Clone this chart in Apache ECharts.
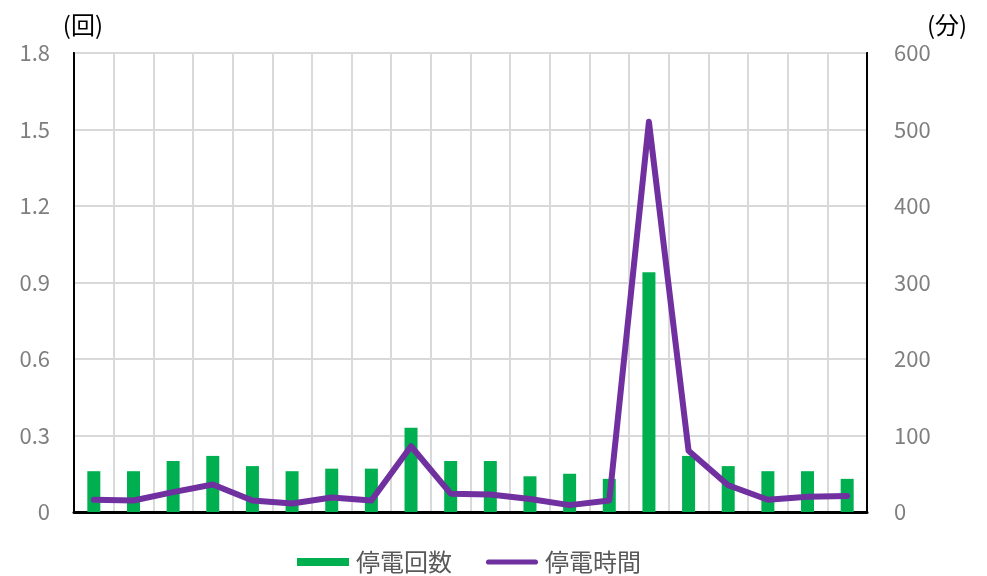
<!DOCTYPE html>
<html><head><meta charset="utf-8">
<script src="https://cdn.jsdelivr.net/npm/echarts@6/dist/echarts.min.js"></script>
<style>html,body{margin:0;padding:0;background:#fff}#c{width:987px;height:576px}</style>
</head><body><div id="c"></div>
<script>
const categories = ['1','2','3','4','5','6','7','8','9','10','11','12','13','14','15','16','17','18','19','20'];
const outageCount = [0.16,0.16,0.20,0.22,0.18,0.16,0.17,0.17,0.33,0.20,0.20,0.14,0.15,0.13,0.94,0.22,0.18,0.16,0.16,0.13];
const outageMinutes = [16,15,26,36,15,11,19,15,86,24,23,17,9,15,510,80,35,16,20,21];
const seriesNames = ['停電回数','停電時間'];
const leftAxisName = '(回)';
const rightAxisName = '(分)';

const font = '"Noto Sans CJK JP", "Noto Sans", sans-serif';
const chart = echarts.init(document.getElementById('c'));
chart.setOption({
  animation: false,
  textStyle: { fontFamily: font },
  grid: { left: 74, right: 120, top: 53, bottom: 64, show: true, borderColor: '#000', borderWidth: 2, backgroundColor: 'transparent' },
  legend: {
    top: 545, left: 292, itemWidth: 52, itemHeight: 8, itemGap: 34,
    textStyle: { fontSize: 24, color: '#595959', fontFamily: font, padding: [0, 0, 0, 2] },
    data: [
      { name: seriesNames[0], icon: 'rect' },
      { name: seriesNames[1], icon: 'path://M3,0 L57,0 A3,3 0 0 1 57,6 L3,6 A3,3 0 0 1 3,0 Z', itemStyle: { color: '#7030A0' } }
    ]
  },
  xAxis: {
    type: 'category', data: categories,
    axisLine: { show: true, lineStyle: { color: '#000', width: 3 } },
    axisTick: { show: false }, axisLabel: { show: false },
    splitLine: { show: true, lineStyle: { color: '#d9d9d9', width: 2 } }
  },
  yAxis: [
    {
      type: 'value', min: 0, max: 1.8, interval: 0.3,
      name: leftAxisName, nameLocation: 'end', nameGap: 16,
      nameTextStyle: { color: '#000', fontSize: 24, align: 'right', padding: [0, -29, 0, 0] },
      axisLine: { show: true, lineStyle: { color: '#000', width: 2 } },
      axisTick: { show: false },
      axisLabel: { color: '#7f7f7f', fontSize: 22, margin: 24, formatter: v => v === 0 ? '0' : v.toFixed(1) },
      splitLine: { show: true, lineStyle: { color: '#d9d9d9', width: 2 } }
    },
    {
      type: 'value', min: 0, max: 600, interval: 100,
      name: rightAxisName, nameLocation: 'end', nameGap: 16,
      nameTextStyle: { color: '#000', fontSize: 24, align: 'left', padding: [0, 0, 0, 60] },
      axisLine: { show: true, lineStyle: { color: '#000', width: 2 } },
      axisTick: { show: false },
      axisLabel: { color: '#7f7f7f', fontSize: 22, margin: 27 },
      splitLine: { show: false }
    }
  ],
  series: [
    { name: seriesNames[0], type: 'bar', yAxisIndex: 0, data: outageCount, barWidth: 13, itemStyle: { color: '#00B050' } },
    { name: seriesNames[1], type: 'line', yAxisIndex: 1, data: outageMinutes, symbol: 'none',
      lineStyle: { color: '#7030A0', width: 6, cap: 'round', join: 'round' }, itemStyle: { color: '#7030A0' } }
  ]
});
</script></body></html>
